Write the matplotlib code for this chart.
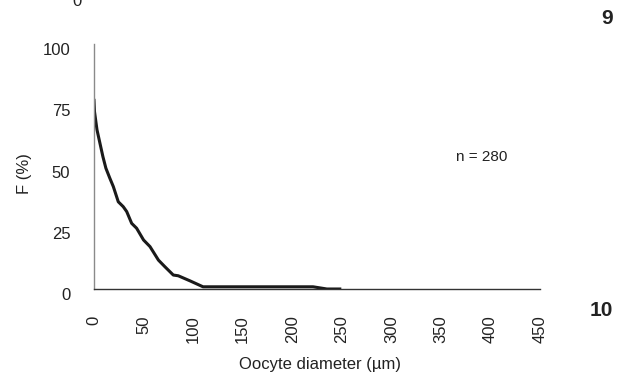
import matplotlib.pyplot as plt
import matplotlib.transforms as mtransforms

plt.rcParams['font.family'] = ['Liberation Sans', 'DejaVu Sans']

# oocyte size frequency
diameter = [0, 0.5, 3, 6, 9, 12, 16, 19.5, 24.5, 29.5, 33, 38, 43, 50, 56.5,
            65, 71.5, 80, 85, 97, 110, 150, 200, 221, 235, 248]
freq = [77, 72.4, 65, 59.5, 54, 49.3, 45.2, 41.8, 35.6, 33.6, 31.6, 26.8, 24.8,
        20, 17.3, 11.8, 9.1, 5.7, 5.4, 3.3, 0.9, 0.9, 0.9, 0.9, 0, 0]
xticks = list(range(0, 451, 50))
yticks = [0, 25, 50, 75, 100]

fig = plt.figure(figsize=(6.26, 3.75), dpi=100)
ax = fig.add_axes([94 / 626, 1 - 289 / 375, 446 / 626, 245 / 375])

ax.plot(diameter, freq, color='#1a1a1a', linewidth=2.2, solid_joinstyle='round')

ax.set_xlim(0, 450)
ax.set_ylim(0, 100)
ax.set_xticks(xticks)
ax.set_yticks(yticks)
ax.set_xticklabels([str(v) for v in xticks], rotation=90, va='top')
ax.tick_params(axis='both', length=0, labelsize=12, colors='#222222')
ax.tick_params(axis='y', pad=17)
ax.tick_params(axis='x', pad=19)

# excel puts the value labels a little below the gridline positions
offset = mtransforms.ScaledTranslation(0, -5 / 100, fig.dpi_scale_trans)
for lab in ax.get_yticklabels():
    lab.set_transform(lab.get_transform() + offset)

for side in ['top', 'right']:
    ax.spines[side].set_visible(False)
ax.spines['left'].set_color('#8a8a8a')
ax.spines['left'].set_linewidth(1.0)
ax.spines['bottom'].set_color('#333333')
ax.spines['bottom'].set_linewidth(1.0)

fig.text(24 / 626, 1 - 174 / 375, 'F (%)', rotation=90, ha='center', va='center',
         fontsize=12, color='#222222')
fig.text(320 / 626, 1 - 364 / 375, 'Oocyte diameter (µm)', ha='center', va='center',
         fontsize=12, color='#222222')
ax.text(482 / 626, 1 - 157 / 375, 'n = 280', transform=fig.transFigure, ha='center',
        va='center', fontsize=11, color='#222222')

# panel numbers and the cut-off label from the chart above
fig.text(77 / 626, 1 - 1 / 375, '0', ha='center', va='center', fontsize=12, color='#222222')
fig.text(607 / 626, 1 - 19 / 375, '9', ha='center', va='center', fontsize=15,
         fontweight='bold', color='#222222')
fig.text(601 / 626, 1 - 311 / 375, '10', ha='center', va='center', fontsize=15,
         fontweight='bold', color='#222222')

fig.savefig('out.png', dpi=100, facecolor='white')
